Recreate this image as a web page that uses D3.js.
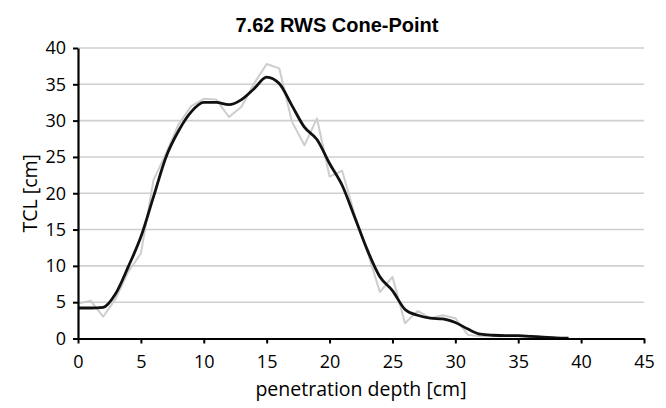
<!DOCTYPE html>
<html>
<head>
<meta charset="utf-8">
<script src="https://cdn.jsdelivr.net/npm/d3@7"></script>
<style>
  body { margin: 0; background: #fff; }
  svg text { fill: #000; }
</style>
</head>
<body>
<svg id="chart" width="666" height="408"></svg>
<script>
// penetration depth [cm]
const depthSmooth = [0,1,2,3,4,5,6,7,8,9,10,11,12,13,14,15,16,17,18,19,20,21,22,23,24,25,26,27,28,29,30,31,32,33,34,35,36,37,38,39];
// smoothed TCL [cm]
const tclSmooth = [4.2,4.2,4.3,6.2,9.9,14.0,19.5,25.0,28.6,31.2,32.5,32.5,32.2,32.9,34.4,36.0,35.1,32.1,29.1,27.4,24.1,21.1,16.7,12.2,8.5,6.6,4.0,3.2,2.8,2.7,2.2,1.3,0.6,0.45,0.4,0.4,0.3,0.2,0.1,0.05];

// raw measurement
const depthRaw = [0,1,2,3,4,5,6,7,8,9,10,11,12,13,14,15,16,17,18,19,20,21,22,23,24,25,26,27,28,29,30,31,32,33,34,35,36,37,38,39];
const tclRaw = [4.8,5.2,3.0,5.5,9.2,11.7,21.8,25.5,29.5,32.0,33.0,32.9,30.5,31.9,35.1,37.8,37.2,29.9,26.6,30.3,22.3,23.1,17.0,12.0,6.4,8.5,2.1,3.8,2.8,3.2,2.8,0.5,0.3,0.3,0.3,0.3,0.2,0.2,0.1,0.05];

const xTicks = [0,5,10,15,20,25,30,35,40,45];
const yTicks = [0,5,10,15,20,25,30,35,40];

const svg = d3.select("#chart");
const mLeft = 78, mRight = 644, mTop = 48, mBottom = 338.5;

const x = d3.scaleLinear().domain([0, 45]).range([mLeft, mRight]);
const y = d3.scaleLinear().domain([0, 40]).range([mBottom, mTop]);

// grid
svg.append("g")
    .selectAll("line")
    .data(yTicks.filter(d => d > 0))
    .enter()
    .append("line")
    .attr("x1", mLeft)
    .attr("x2", mRight)
    .attr("y1", d => y(d))
    .attr("y2", d => y(d))
    .style("stroke", "#cfcfcf")
    .style("stroke-width", 1.6);

// raw line (grey)
let line = d3.line().x(d => x(d[0])).y(d => y(d[1]));
svg.append("path")
    .datum(depthRaw.map((d, i) => [d, tclRaw[i]]))
    .attr("d", line)
    .style("fill", "none")
    .style("stroke", "#cdcdcd")
    .style("stroke-width", 2)
    .style("stroke-linejoin", "round");

// smoothed line (black)
svg.append("path")
    .datum(depthSmooth.map((d, i) => [d, tclSmooth[i]]))
    .attr("d", line.curve(d3.curveMonotoneX))
    .style("fill", "none")
    .style("stroke", "#111")
    .style("stroke-width", 2.8)
    .style("stroke-linejoin", "round");

// axes
let xAxis = svg.append("g")
    .attr("transform", `translate(0,${mBottom})`)
    .call(d3.axisBottom(x).tickValues(xTicks).tickSize(5).tickPadding(12).tickSizeOuter(0));
let yAxis = svg.append("g")
    .attr("transform", `translate(${mLeft},0)`)
    .call(d3.axisLeft(y).tickValues(yTicks).tickSize(5).tickPadding(7).tickSizeOuter(0));

[xAxis, yAxis].forEach(a => {
    a.select(".domain").style("stroke", "#000").style("stroke-width", 2.2);
    a.selectAll(".tick line").style("stroke", "#000").style("stroke-width", 2);
    a.selectAll(".tick text")
        .style("font-family", "'Open Sans', 'DejaVu Sans', sans-serif")
        .style("font-size", "18px")
        .style("fill", "#000");
});

// title
svg.append("text")
    .text("7.62 RWS Cone-Point")
    .attr("x", 337)
    .attr("y", 32)
    .attr("text-anchor", "middle")
    .style("font-family", "'Liberation Sans', Arial, sans-serif")
    .style("font-weight", "bold")
    .style("font-size", "20px");

// axis titles
svg.append("text")
    .text("penetration depth [cm]")
    .attr("x", (mLeft + mRight) / 2)
    .attr("y", 396)
    .attr("text-anchor", "middle")
    .style("font-family", "'Open Sans', 'DejaVu Sans', sans-serif")
    .style("font-size", "19.5px");

svg.append("text")
    .text("TCL [cm]")
    .attr("transform", `translate(37,${(mTop + mBottom) / 2}) rotate(-90)`)
    .attr("text-anchor", "middle")
    .style("font-family", "'Open Sans', 'DejaVu Sans', sans-serif")
    .style("font-size", "19.5px");
</script>
</body>
</html>
